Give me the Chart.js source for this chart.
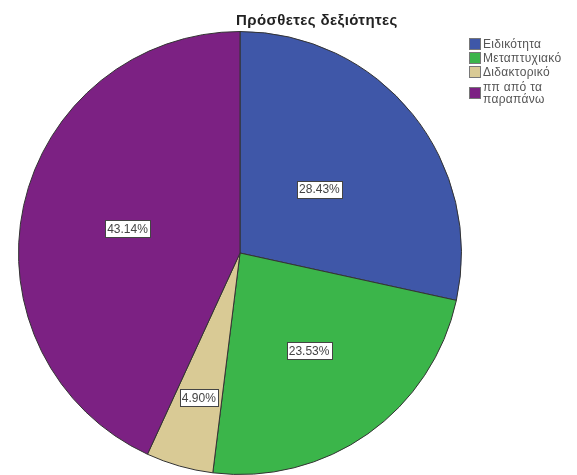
<!DOCTYPE html>
<html>
<head>
<meta charset="utf-8">
<script src="https://cdn.jsdelivr.net/npm/chart.js@4/dist/chart.umd.min.js"></script>
<style>
  html, body { margin: 0; padding: 0; background: #fff; }
  #wrap { position: relative; width: 577px; height: 475px; overflow: hidden; }
  #c { position: absolute; left: 0; top: 0; }
  #title { position: absolute; left: 236px; top: 11px; font: bold 15px "Liberation Sans", Arial, sans-serif; letter-spacing: 0.4px; color: #222; white-space: nowrap; line-height: 17px; }
  #legend { position: absolute; left: 469px; top: 38px; font: 12px "Liberation Sans", Arial, sans-serif; letter-spacing: 0.3px; color: #555; }
  .item { display: flex; align-items: center; margin-bottom: 2px; line-height: 12px; }
  .item:last-child { margin-top: 3px; }
  .sw { width: 12px; height: 12px; box-sizing: border-box; border: 1px solid #777; margin-right: 2px; flex: none; }
  .txt { width: 82px; }
</style>
</head>
<body>
<div id="wrap">
  <canvas id="c" width="577" height="475"></canvas>
  <div id="title"></div>
  <div id="legend"></div>
</div>
<script>
const chartTitle = "Πρόσθετες δεξιότητες";
const categories = ["Ειδικότητα", "Μεταπτυχιακό", "Διδακτορικό", "ππ από τα παραπάνω"];
const percentages = [28.43, 23.53, 4.90, 43.14];

const colors = ["#3f57a8", "#3bb54a", "#d9ca95", "#7c2183"];
const labelRadius = [0.46, 0.54, 0.68, 0.52];

document.getElementById('title').textContent = chartTitle;
const leg = document.getElementById('legend');
categories.forEach((c, i) => {
  const d = document.createElement('div');
  d.className = 'item';
  const sw = document.createElement('div');
  sw.className = 'sw';
  sw.style.background = colors[i];
  const t = document.createElement('div');
  t.className = 'txt';
  t.textContent = c;
  d.appendChild(sw); d.appendChild(t);
  leg.appendChild(d);
});

const pctLabels = {
  id: 'pctLabels',
  afterDatasetsDraw(chart) {
    const ctx = chart.ctx;
    const meta = chart.getDatasetMeta(0);
    ctx.save();
    ctx.font = '12px "Liberation Sans", Arial, sans-serif';
    ctx.textAlign = 'center';
    ctx.textBaseline = 'middle';
    meta.data.forEach((arc, i) => {
      const mid = (arc.startAngle + arc.endAngle) / 2;
      const r = arc.outerRadius * labelRadius[i];
      const x = arc.x + Math.cos(mid) * r;
      const y = arc.y + Math.sin(mid) * r;
      const txt = percentages[i].toFixed(2) + '%';
      const w = ctx.measureText(txt).width + 4;
      const h = 17;
      const bx = Math.round(x - w / 2) + 0.5, by = Math.round(y - h / 2) + 0.5;
      ctx.fillStyle = '#fff';
      ctx.fillRect(bx, by, Math.round(w), h);
      ctx.strokeStyle = '#444';
      ctx.lineWidth = 1;
      ctx.strokeRect(bx, by, Math.round(w), h);
      ctx.fillStyle = '#444';
      ctx.fillText(txt, x, y + 1);
    });
    ctx.restore();
  }
};

new Chart(document.getElementById('c'), {
  type: 'pie',
  data: {
    labels: categories,
    datasets: [{
      data: percentages,
      backgroundColor: colors,
      borderColor: '#333',
      borderWidth: 1
    }]
  },
  options: {
    responsive: false,
    animation: false,
    layout: { padding: { left: 18, right: 115, top: 31, bottom: 0 } },
    plugins: { legend: { display: false }, tooltip: { enabled: false }, title: { display: false } }
  },
  plugins: [pctLabels]
});
</script>
</body>
</html>
